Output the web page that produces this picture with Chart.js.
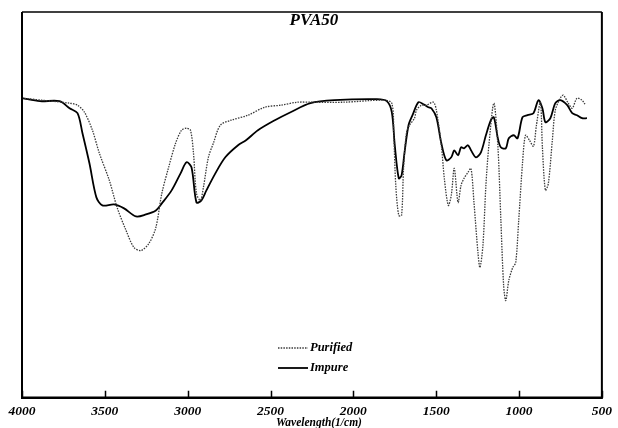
<!DOCTYPE html>
<html>
<head>
<meta charset="utf-8">
<script src="https://cdn.jsdelivr.net/npm/chart.js@4.4.1/dist/chart.umd.min.js"></script>
<style>
  html, body { margin: 0; padding: 0; background: #fff; }
  #wrap { width: 618px; height: 428px; }
</style>
</head>
<body>
<div id="wrap"><canvas id="ftir" width="618" height="428"></canvas></div>
<script>
// --- Data (transmittance in arbitrary units) ---
const CHART_TITLE = "PVA50";
const X_TITLE = "Wavelength(1/cm)";
const xTicks = [4000, 3500, 3000, 2500, 2000, 1500, 1000, 500];

const purifiedWave = [4000, 3880, 3713, 3665, 3623, 3575, 3533, 3473, 3426, 3372, 3324, 3282, 3234, 3192,
  3156, 3115, 3073, 3037, 3007, 2983, 2965, 2947, 2923, 2905, 2875, 2845, 2803, 2738, 2636, 2534, 2438,
  2337, 2259, 2055, 1816, 1768, 1756, 1744, 1726, 1709, 1697, 1679, 1661, 1631, 1619, 1589, 1559, 1517,
  1499, 1469, 1451, 1427, 1409, 1391, 1368, 1350, 1332, 1308, 1290, 1272, 1248, 1236, 1218, 1200, 1182,
  1152, 1128, 1110, 1093, 1080, 1062, 1038, 1020, 1002, 979, 961, 937, 913, 895, 871, 859, 841, 823, 799,
  781, 751, 733, 703, 679, 650, 620, 602];
const purifiedT = [299, 297, 294, 292, 285, 267, 244, 217, 190, 167, 150, 147, 154, 170,
  204, 230, 254, 267, 269, 267, 244, 204, 197, 210, 240, 254, 272, 277, 282, 290, 292,
  295, 295, 295, 297, 294, 262, 212, 182, 182, 229, 265, 272, 279, 287, 292, 292, 295,
  287, 252, 219, 192, 202, 229, 195, 212, 219, 225, 229, 195, 145, 130, 152, 212, 252,
  294, 252, 179, 112, 97, 117, 130, 135, 177, 234, 262, 257, 251, 272, 295, 250, 207, 214, 257,
  287, 299, 302, 294, 289, 299, 297, 293];

const impureWave = [4000, 3892, 3773, 3713, 3665, 3635, 3593, 3551, 3515, 3444, 3384, 3312, 3252, 3192,
  3156, 3097, 3043, 3007, 2977, 2947, 2917, 2887, 2833, 2773, 2696, 2648, 2576, 2474, 2379, 2259, 2115,
  1858, 1798, 1768, 1750, 1726, 1709, 1691, 1667, 1643, 1607, 1577, 1547, 1529, 1499, 1469, 1439, 1409,
  1391, 1368, 1350, 1332, 1308, 1290, 1260, 1230, 1200, 1170, 1152, 1128, 1110, 1080, 1062, 1032, 1009,
  979, 949, 913, 883, 859, 841, 811, 781, 751, 709, 679, 650, 620, 590];
const impureT = [299, 296, 296, 289, 284, 264, 234, 200, 192, 193, 189, 181, 183, 187,
  194, 207, 224, 235, 230, 195, 197, 207, 224, 240, 252, 257, 267, 277, 285, 294, 297,
  298, 296, 285, 252, 219, 222, 245, 272, 282, 295, 293, 290, 289, 280, 254, 237, 240,
  247, 242, 250, 249, 252, 247, 240, 245, 262, 277, 280, 259, 250, 249, 259, 262, 259,
  280, 282, 284, 297, 289, 275, 279, 294, 297, 292, 284, 282, 279, 279];

const toPoints = (xs, ys) => xs.map((x, i) => ({ x: x, y: ys[i] }));

const SERIF = "'Liberation Serif', 'DejaVu Serif', serif";

// --- Frame, inner ticks, titles and legend drawn on top of the plot ---
const framePlugin = {
  id: 'frame',
  afterDraw(chart) {
    const { ctx, chartArea: a } = chart;
    const xs = chart.scales.x;
    ctx.save();
    ctx.strokeStyle = '#000';
    ctx.lineWidth = 1.5;
    ctx.beginPath();
    ctx.moveTo(a.left, a.top);
    ctx.lineTo(a.right, a.top);
    ctx.stroke();
    ctx.lineWidth = 2;
    ctx.beginPath();
    ctx.moveTo(a.left, a.top);
    ctx.lineTo(a.left, a.bottom);
    ctx.moveTo(a.right, a.top);
    ctx.lineTo(a.right, a.bottom);
    ctx.stroke();
    ctx.lineWidth = 2.5;
    ctx.beginPath();
    ctx.moveTo(a.left - 1, a.bottom);
    ctx.lineTo(a.right + 1, a.bottom);
    ctx.stroke();
    // inward tick marks
    ctx.lineWidth = 1.5;
    ctx.beginPath();
    xTicks.forEach(v => {
      const px = Math.round(xs.getPixelForValue(v)) + 0.5;
      ctx.moveTo(px, a.bottom);
      ctx.lineTo(px, a.bottom - 7);
    });
    ctx.stroke();

    ctx.fillStyle = '#000';
    ctx.textAlign = 'center';
    ctx.textBaseline = 'middle';
    // chart title inside the frame
    ctx.font = "bold italic 17px " + SERIF;
    ctx.fillText(CHART_TITLE, (a.left + a.right) / 2 + 2, a.top + 9);
    // axis title
    ctx.font = "bold italic 11.5px " + SERIF;
    ctx.fillText(X_TITLE, (a.left + a.right) / 2 + 7, a.bottom + 25);

    // legend
    const lx = 278, ly = [348, 368];
    chart.data.datasets.forEach((ds, i) => {
      ctx.strokeStyle = ds.borderColor;
      ctx.lineWidth = ds.borderWidth;
      ctx.setLineDash(ds.borderDash || []);
      ctx.beginPath();
      ctx.moveTo(lx, ly[i]);
      ctx.lineTo(lx + 30, ly[i]);
      ctx.stroke();
      ctx.setLineDash([]);
      ctx.font = "bold italic 12.5px " + SERIF;
      ctx.textAlign = 'left';
      ctx.fillText(ds.label, lx + 32, ly[i]);
    });
    ctx.restore();
  }
};

new Chart(document.getElementById('ftir').getContext('2d'), {
  type: 'line',
  data: {
    datasets: [{
      label: 'Purified',
      data: toPoints(purifiedWave, purifiedT),
      borderColor: '#3a3a3a',
      borderWidth: 1.3,
      borderDash: [1.5, 1.2],
      pointRadius: 0,
      fill: false,
      tension: 0.3
    }, {
      label: 'Impure',
      data: toPoints(impureWave, impureT),
      borderColor: '#000',
      borderWidth: 1.8,
      pointRadius: 0,
      fill: false,
      tension: 0.3
    }]
  },
  options: {
    responsive: false,
    animation: false,
    layout: { padding: { left: 22, right: 11, top: 12, bottom: 2 } },
    scales: {
      x: {
        type: 'linear',
        reverse: true,
        min: 500,
        max: 4000,
        afterBuildTicks: axis => { axis.ticks = xTicks.map(v => ({ value: v })); },
        grid: { display: false, drawTicks: false },
        border: { display: false },
        ticks: {
          color: '#000',
          padding: 6,
          maxRotation: 0,
          autoSkip: false,
          callback: v => String(v),
          font: { family: SERIF, size: 13.5, weight: 'bold', style: 'italic' }
        },
        title: { display: false }
      },
      y: {
        display: false,
        min: 0,
        max: 385
      }
    },
    plugins: {
      legend: { display: false },
      tooltip: { enabled: false }
    }
  },
  plugins: [framePlugin]
});
</script>
</body>
</html>
